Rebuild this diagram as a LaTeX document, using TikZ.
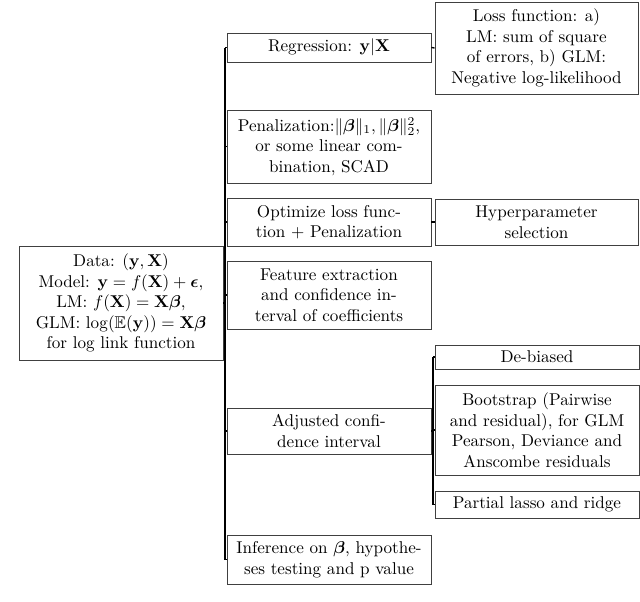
\documentclass[tikz,border=0pt]{standalone}
\usepackage{amsmath,amssymb}
\begin{document}
\begin{tikzpicture}[x=0.585pt,y=-0.585pt,
  box/.style={draw=black!75,line width=0.5pt,align=center,inner sep=0pt,font=\normalsize},
  link/.style={draw=black,line width=0.8pt}]
\useasboundingbox (0,0) rectangle (640,602);
\node[box,minimum width=204*0.585pt,minimum height=114*0.585pt] (data) at (121,303)
  {Data: $(\mathbf{y},\mathbf{X})$\\
   Model: $\mathbf{y} = f(\mathbf{X})+\boldsymbol{\epsilon}$,\\
   LM: $f(\mathbf{X}) = \mathbf{X}\boldsymbol{\beta}$,\\
   GLM: $\log(\mathbb{E}(\mathbf{y})) = \mathbf{X}\boldsymbol{\beta}$\\
   for log link function};
\node[box,minimum width=204*0.585pt,minimum height=29*0.585pt] (reg) at (329,47.5)
  {Regression: $\mathbf{y}|\mathbf{X}$};
\node[box,minimum width=204*0.585pt,minimum height=73*0.585pt] (pen) at (329,146.5)
  {Penalization:$\|\boldsymbol{\beta}\|_1, \|\boldsymbol{\beta}\|_2^2$,\\
   or some linear com-\\bination, SCAD};
\node[box,minimum width=204*0.585pt,minimum height=48*0.585pt] (opt) at (329,222)
  {Optimize loss func-\\tion + Penalization};
\node[box,minimum width=204*0.585pt,minimum height=68*0.585pt] (feat) at (329,295)
  {Feature extraction\\and confidence in-\\terval of coefficients};
\node[box,minimum width=204*0.585pt,minimum height=46*0.585pt] (adj) at (329,431)
  {Adjusted confi-\\dence interval};
\node[box,minimum width=204*0.585pt,minimum height=49*0.585pt] (inf) at (329,559.5)
  {Inference on $\boldsymbol{\beta}$, hypothe-\\ses testing and p value};
\node[box,minimum width=203*0.585pt,minimum height=92*0.585pt] (loss) at (536.5,48)
  {Loss function: a)\\LM: sum of square\\of errors, b) GLM:\\Negative log-likelihood};
\node[box,minimum width=203*0.585pt,minimum height=46*0.585pt] (hyp) at (536.5,222)
  {Hyperparameter\\selection};
\node[box,minimum width=204*0.585pt,minimum height=24*0.585pt] (deb) at (537,357)
  {De-biased};
\node[box,minimum width=204*0.585pt,minimum height=90*0.585pt] (boot) at (537,430)
  {Bootstrap (Pairwise\\and residual), for GLM\\Pearson, Deviance and\\Anscombe residuals};
\node[box,minimum width=204*0.585pt,minimum height=27*0.585pt] (part) at (537,504.5)
  {Partial lasso and ridge};
\coordinate (t) at (225,0);
\coordinate (s) at (433,0);
\draw[link] (data.east) -- (data.east -| t);
\draw[link] (reg.west -| t) -- (inf.west -| t);
\foreach \n in {reg,pen,opt,feat,adj,inf} \draw[link] (\n.west -| t) -- (\n.west);
\draw[link] (reg.east) -- (loss.west);
\draw[link] (opt.east) -- (hyp.west);
\draw[link] (adj.east) -- (adj.east -| s);
\draw[link] (deb.west -| s) -- (part.west -| s);
\foreach \n in {deb,boot,part} \draw[link] (\n.west -| s) -- (\n.west);
\end{tikzpicture}
\end{document}
